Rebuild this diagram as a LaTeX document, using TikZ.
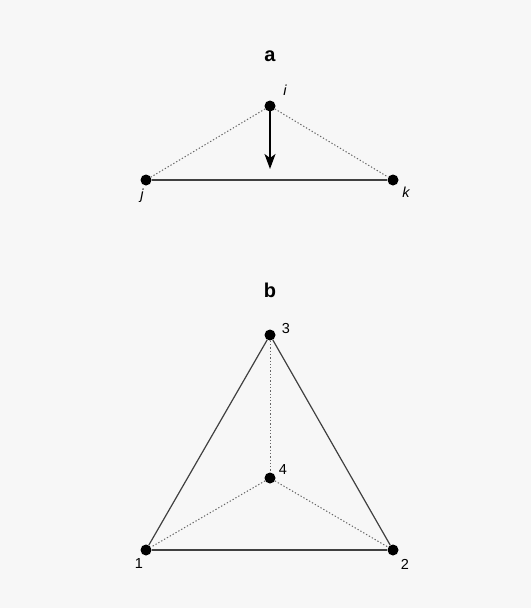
\documentclass[tikz,border=0pt]{standalone}
\usepackage{fontspec}
\setmainfont{Liberation Sans}
\usetikzlibrary{arrows.meta}
\definecolor{bg}{HTML}{F7F7F7}
\begin{document}
\begin{tikzpicture}[x=1pt,y=-1pt,
  dot/.style={circle,fill=black,inner sep=0pt,minimum size=11pt},
  lbl/.style={inner sep=0pt,font=\fontsize{14.5}{16}\selectfont},
  ttl/.style={inner sep=0pt,font=\fontsize{20}{22}\selectfont\bfseries},
  solidedge/.style={draw=black!75,line width=1.2pt},
  dotedge/.style={draw=black!60,line width=1pt,dash pattern=on 1.3pt off 2pt},
  arr/.style={draw=black,line width=1.6pt,-{Stealth[length=15pt,width=11pt,inset=4pt]}}]
\fill[bg] (0,0) rectangle (531,608);
\useasboundingbox (0,0) rectangle (531,608);
% panel a
\node[ttl] (ta) at (270,56) {a};
\node[dot] (i) at (270,106) {};
\node[dot] (j) at (146,180) {};
\node[dot] (k) at (393,180) {};
\coordinate (ae) at (270,169);
\node[lbl] (li) at (285,90) {\itshape i};
\node[lbl] (lj) at (142,196) {\itshape j};
\node[lbl] (lk) at (406,192) {\itshape k};
\draw[dotedge] (i) -- (j);
\draw[dotedge] (i) -- (k);
\draw[solidedge] (j) -- (k);
\draw[arr] (i.center) -- (ae);
% panel b
\node[ttl] (tb) at (270,290) {b};
\node[dot] (n3) at (270,335) {};
\node[dot] (n4) at (270,478) {};
\node[dot] (n1) at (146,550) {};
\node[dot] (n2) at (393,550) {};
\node[lbl] (l3) at (286,329) {3};
\node[lbl] (l4) at (283,470) {4};
\node[lbl] (l1) at (139,564) {1};
\node[lbl] (l2) at (405,564) {2};
\draw[solidedge] (n1) -- (n3);
\draw[solidedge] (n2) -- (n3);
\draw[solidedge] (n1) -- (n2);
\draw[dotedge] (n3) -- (n4);
\draw[dotedge] (n4) -- (n1);
\draw[dotedge] (n4) -- (n2);
\end{tikzpicture}
\end{document}
